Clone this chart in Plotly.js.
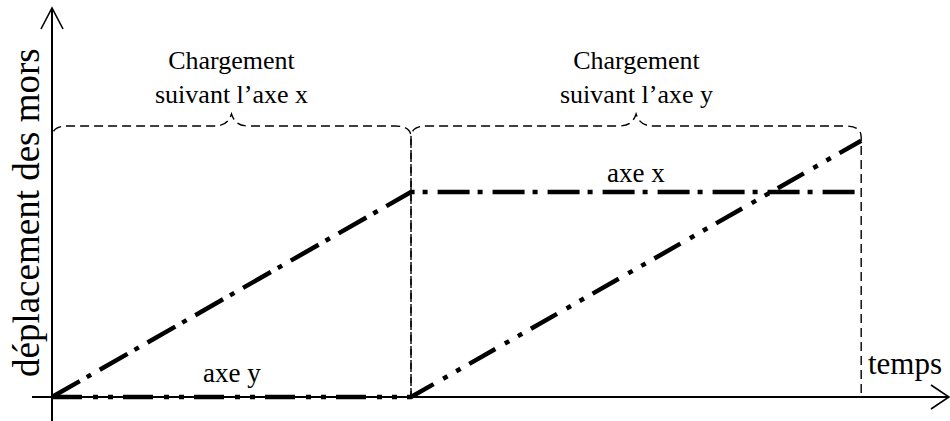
<!DOCTYPE html>
<html>
<head>
<meta charset="utf-8">
<script src="https://cdn.plot.ly/plotly-3.0.1.min.js"></script>
<style>html,body{margin:0;padding:0;background:#fff;}#chart{width:950px;height:421px;}</style>
</head>
<body>
<div id="chart"></div>
<script>
// ---- data ----
const phaseTimes = [0, 1, 2.254];                 // phase boundaries (time units)
const axeXTime = [0, 1, 2.254];
const axeXDispl = [0, 1, 1];                      // displacement along x
const axeYTime = [0, 1, 2.254];
const axeYDispl = [0, 0, 1.25];                   // displacement along y
const phaseLabels = ["Chargement<br>suivant l’axe x", "Chargement<br>suivant l’axe y"];
const seriesLabels = ["axe x", "axe y"];
const xTitle = "temps";
const yTitle = "déplacement des mors";

// ---- layout helpers (pixel frame) ----
const W = 950, H = 421;
const X0 = 52, Y0 = 397;      // origin in pixels
const SX = 359, SY = 205;     // pixels per unit
const xRange = [-X0 / SX, (W - X0) / SX];
const yRange = [-(H - Y0) / SY, Y0 / SY];
const px = x => x / W;
const py = y => 1 - y / H;
const tx = t => X0 + SX * t;   // time -> pixel x
const FONT = '"Liberation Serif", "Times New Roman", serif';

const traces = [
  {x: axeXTime, y: axeXDispl, name: seriesLabels[0], mode: 'lines',
   line: {color: '#000', width: 4.5, dash: '32px,8px,5px,10px'}, hoverinfo: 'skip'},
  {x: axeYTime, y: axeYDispl, name: seriesLabels[1], mode: 'lines',
   line: {color: '#000', width: 4.5, dash: '30px,11px,5px,10px,5px,10px'}, hoverinfo: 'skip'}
];

// braces over each loading phase
function P(x, y) { return px(x).toFixed(5) + ',' + py(y).toFixed(5); }
const L = 126; // brace level (px)
const shapes = [];
for (let i = 0; i < phaseTimes.length - 1; i++) {
  const a = tx(phaseTimes[i]), b = tx(phaseTimes[i + 1]);
  const m = (a + b) / 2;
  const path = 'M' + P(a, Y0) + ' L' + P(a, L + 11) +
    ' Q' + P(a, L) + ' ' + P(a + 16, L) +
    ' L' + P(m - 18, L) +
    ' C' + P(m - 8, L) + ' ' + P(m - 3, L - 3) + ' ' + P(m, L - 12) +
    ' C' + P(m + 3, L - 3) + ' ' + P(m + 8, L) + ' ' + P(m + 18, L) +
    ' L' + P(b - 16, L) +
    ' Q' + P(b, L) + ' ' + P(b, L + 11) +
    ' L' + P(b, Y0);
  shapes.push({type: 'path', xref: 'paper', yref: 'paper', path: path, layer: 'below',
    line: {color: '#000', width: 1.4, dash: '9px,5px'}});
}
// axes with open arrowheads
shapes.push({type: 'line', xref: 'paper', yref: 'paper', x0: px(32), y0: py(Y0), x1: px(949), y1: py(Y0),
  layer: 'below', line: {color: '#000', width: 2}});
shapes.push({type: 'line', xref: 'paper', yref: 'paper', x0: px(X0), y0: py(H), x1: px(X0), y1: py(8),
  layer: 'below', line: {color: '#000', width: 2}});
shapes.push({type: 'path', xref: 'paper', yref: 'paper', layer: 'below',
  path: 'M' + P(931, Y0 - 12) + ' L' + P(949, Y0) + ' L' + P(931, Y0 + 12),
  line: {color: '#000', width: 1.6}});
shapes.push({type: 'path', xref: 'paper', yref: 'paper', layer: 'below',
  path: 'M' + P(X0 - 11, 29) + ' L' + P(X0, 8) + ' L' + P(X0 + 11, 29),
  line: {color: '#000', width: 1.6}});

const annotations = [];
for (let i = 0; i < phaseLabels.length; i++) {
  const m = (tx(phaseTimes[i]) + tx(phaseTimes[i + 1])) / 2;
  annotations.push({text: phaseLabels[i], xref: 'paper', yref: 'paper', x: px(m), y: py(78),
    xanchor: 'center', yanchor: 'middle', showarrow: false,
    font: {family: FONT, size: 26, color: '#000'}});
}
annotations.push({text: seriesLabels[0], xref: 'paper', yref: 'paper',
  x: px((tx(phaseTimes[1]) + tx(phaseTimes[2])) / 2), y: py(173),
  xanchor: 'center', yanchor: 'middle', showarrow: false, font: {family: FONT, size: 27, color: '#000'}});
annotations.push({text: seriesLabels[1], xref: 'paper', yref: 'paper',
  x: px((tx(phaseTimes[0]) + tx(phaseTimes[1])) / 2), y: py(373),
  xanchor: 'center', yanchor: 'middle', showarrow: false, font: {family: FONT, size: 27, color: '#000'}});
annotations.push({text: xTitle, xref: 'paper', yref: 'paper', x: px(905), y: py(363),
  xanchor: 'center', yanchor: 'middle', showarrow: false, font: {family: FONT, size: 31, color: '#000'}});
annotations.push({text: yTitle, xref: 'paper', yref: 'paper', x: px(26), y: py(213),
  xanchor: 'center', yanchor: 'middle', textangle: -90, showarrow: false,
  font: {family: FONT, size: 37, color: '#000'}});

const layout = {
  width: W, height: H,
  margin: {l: 0, r: 0, t: 0, b: 0, pad: 0},
  paper_bgcolor: '#fff', plot_bgcolor: '#fff',
  showlegend: false,
  xaxis: {range: xRange, visible: false, fixedrange: true},
  yaxis: {range: yRange, visible: false, fixedrange: true},
  shapes: shapes,
  annotations: annotations
};

Plotly.newPlot('chart', traces, layout, {staticPlot: true, displayModeBar: false});
</script>
</body>
</html>
